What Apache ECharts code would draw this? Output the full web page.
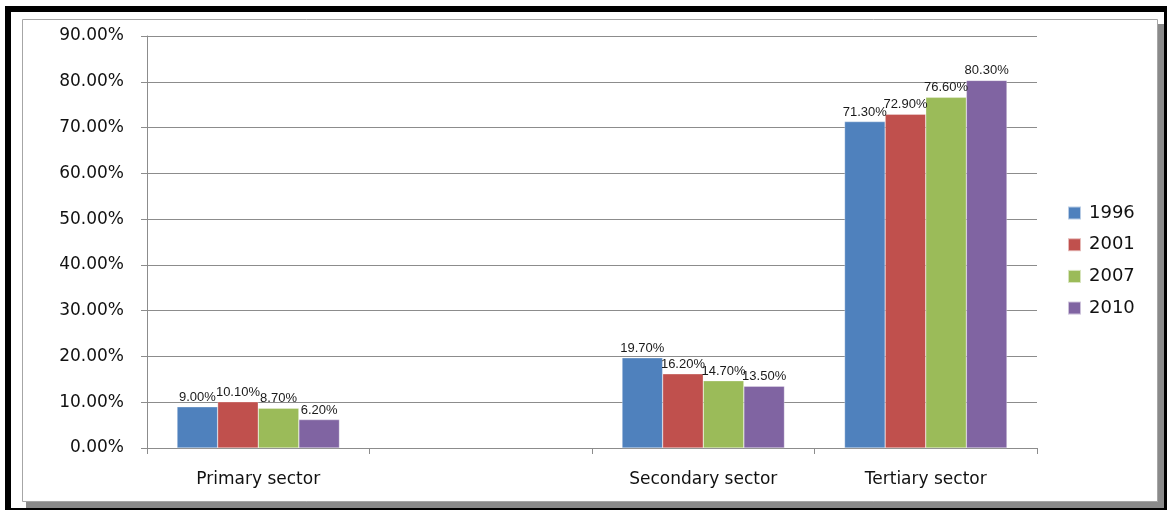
<!DOCTYPE html>
<html>
<head>
<meta charset="utf-8">
<script src="https://cdn.jsdelivr.net/npm/echarts@6/dist/echarts.min.js"></script>
<style>
html,body{margin:0;padding:0;background:#fff;}
#chart{width:1169px;height:512px;}
</style>
</head>
<body>
<div id="chart"></div>
<script>
const categories = ['Primary sector', '', 'Secondary sector', 'Tertiary sector'];
const years = ['1996', '2001', '2007', '2010'];
const s1996 = [9.0, null, 19.7, 71.3];
const s2001 = [10.1, null, 16.2, 72.9];
const s2007 = [8.7, null, 14.7, 76.6];
const s2010 = [6.2, null, 13.5, 80.3];
const yTicks = [0, 10, 20, 30, 40, 50, 60, 70, 80, 90];

const seriesData = [s1996, s2001, s2007, s2010];
const colors = ['#4F81BD', '#C0504D', '#9BBB59', '#8064A2'];

const chart = echarts.init(document.getElementById('chart'), null, {renderer: 'canvas'});
const option = {
  animation: false,
  backgroundColor: '#fff',
  color: colors,
  graphic: [
    {type: 'rect', z: -10, silent: true, shape: {x: 5, y: 6, width: 1162, height: 504}, style: {fill: '#000'}},
    {type: 'rect', z: -9, silent: true, shape: {x: 11, y: 12, width: 1153, height: 496}, style: {fill: '#fff'}},
    {type: 'rect', z: -8, silent: true, shape: {x: 26, y: 24, width: 1138, height: 484}, style: {fill: '#8a8a8a'}},
    {type: 'rect', z: -7, silent: true, shape: {x: 22.5, y: 19.5, width: 1135, height: 482}, style: {fill: '#fff', stroke: '#a6a6a6', lineWidth: 1}}
  ],
  grid: {left: 147, right: 132, top: 36, bottom: 64, containLabel: false},
  legend: {
    orient: 'vertical',
    left: 1062,
    top: 199,
    itemWidth: 13,
    itemHeight: 13,
    itemGap: 13.7,
    icon: 'rect',
    data: years,
    textStyle: {fontFamily: 'DejaVu Sans', fontSize: 18, color: '#111', lineHeight: 18, padding: [0, 0, 0, 3]}
  },
  xAxis: {
    type: 'category',
    data: categories,
    axisLine: {lineStyle: {color: '#8c8c8c', width: 1}},
    axisTick: {show: true, length: 6, lineStyle: {color: '#8c8c8c'}},
    axisLabel: {margin: 23, fontFamily: 'DejaVu Sans', fontSize: 17, color: '#111'}
  },
  yAxis: {
    type: 'value',
    min: yTicks[0],
    max: yTicks[yTicks.length - 1],
    interval: 10,
    axisLine: {show: true, lineStyle: {color: '#8c8c8c', width: 1}},
    axisTick: {show: true, length: 6, lineStyle: {color: '#8c8c8c'}},
    splitLine: {show: true, lineStyle: {color: '#8c8c8c', width: 1}},
    axisLabel: {margin: 23, fontFamily: 'DejaVu Sans', fontSize: 17, color: '#111',
      formatter: v => v.toFixed(2) + '%'}
  },
  series: years.map((y, i) => ({
    name: y,
    type: 'bar',
    data: seriesData[i],
    barGap: '0%',
    barCategoryGap: '27%',
    itemStyle: {color: colors[i], borderColor: 'rgba(255,255,255,0.6)', borderWidth: 0.5},
    label: {
      show: true, position: 'top', distance: 3,
      fontFamily: 'Liberation Sans, Arial', fontSize: 13, color: '#1a1a1a',
      formatter: p => p.value == null ? '' : p.value.toFixed(2) + '%'
    }
  }))
};
chart.setOption(option);
</script>
</body>
</html>
